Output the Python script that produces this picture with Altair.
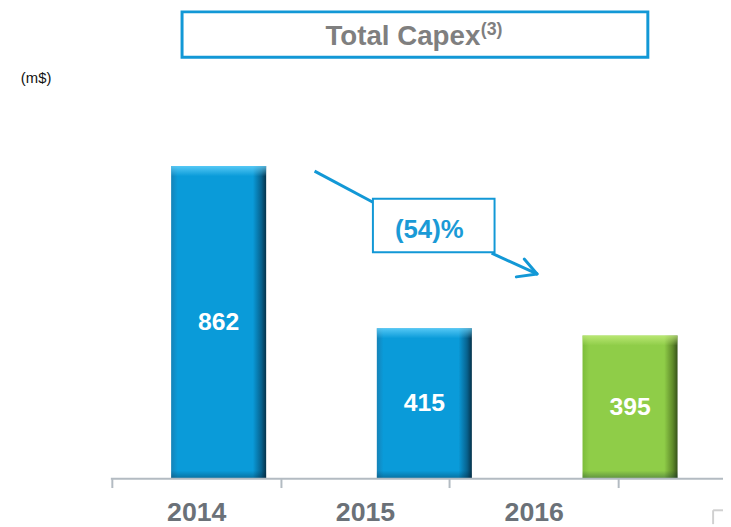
import altair as alt
import pandas as pd

years = ["2014", "2015", "2016"]
capex = [862, 415, 395]
kinds = ["actual", "actual", "plan"]

df = pd.DataFrame({"year": years, "value": capex, "kind": kinds})

BLUE_LINE = "#1298d6"
AXIS_GRAY = "#b3bbc2"
FONT = "Liberation Sans, Arial, sans-serif"

x_axis_scale = alt.Scale(domain=years, range=[105, 617], paddingInner=0, paddingOuter=0)
x_bar_scale = alt.Scale(domain=years, range=[109, 733], paddingInner=0.538, paddingOuter=0.269)
y_scale = alt.Scale(domain=[0, 1290], nice=False)

axis_layer = alt.Chart(df).mark_tick(opacity=0).encode(
    x=alt.X("year:N", scale=x_axis_scale, title=None,
            axis=alt.Axis(domain=False, ticks=True, tickBand="extent", tickSize=9,
                          tickWidth=2, tickColor=AXIS_GRAY, labelAngle=0,
                          labelFont=FONT, labelFontWeight="bold",
                          labelFontSize=27, labelColor="#6b7178", labelPadding=12,
                          grid=False)),
    y=alt.value(470),
)

def hgrad(c0, c1, c2, c3):
    return alt.LinearGradient(
        gradient="linear", x1=0, x2=1, y1=0, y2=0,
        stops=[alt.GradientStop(color=c0, offset=0),
               alt.GradientStop(color=c1, offset=0.07),
               alt.GradientStop(color=c1, offset=0.86),
               alt.GradientStop(color=c2, offset=0.95),
               alt.GradientStop(color=c3, offset=1)])

def vgrad(c0, c1):
    return alt.LinearGradient(
        gradient="linear", x1=0, x2=0, y1=0, y2=1,
        stops=[alt.GradientStop(color=c0, offset=0),
               alt.GradientStop(color=c1, offset=1)])

blue_grad = hgrad("#1583b8", "#0a9bd9", "#07628e", "#05324a")
green_grad = hgrad("#7dbd3b", "#8fcd48", "#5f8a2a", "#36521a")

base = alt.Chart(df).encode(
    x=alt.X("year:N", scale=x_bar_scale, axis=None),
)
bars_blue = base.mark_bar(color=blue_grad).encode(
    y=alt.Y("value:Q", scale=y_scale, axis=None)
).transform_filter(alt.datum.kind == "actual")
bars_green = base.mark_bar(color=green_grad).encode(
    y=alt.Y("value:Q", scale=y_scale, axis=None)
).transform_filter(alt.datum.kind == "plan")

top_blue = base.mark_bar(color=vgrad("rgba(110,215,255,0.75)", "rgba(110,215,255,0)")).encode(
    y=alt.Y("value:Q", scale=y_scale, axis=None), y2="top2:Q"
).transform_filter(alt.datum.kind == "actual").transform_calculate(top2="datum.value - 28")
top_green = base.mark_bar(color=vgrad("rgba(200,240,130,0.75)", "rgba(200,240,130,0)")).encode(
    y=alt.Y("value:Q", scale=y_scale, axis=None), y2="top2:Q"
).transform_filter(alt.datum.kind == "plan").transform_calculate(top2="datum.value - 28")
bottom_shade = base.mark_bar(color=vgrad("rgba(0,30,50,0)", "rgba(0,30,50,0.35)")).encode(
    y=alt.Y("b0:Q", scale=y_scale, axis=None), y2="b1:Q"
).transform_calculate(b0="22", b1="0")

labels = base.mark_text(color="white", font=FONT, fontWeight="bold",
                        fontSize=25, baseline="middle").encode(
    y=alt.Y("mid:Q", scale=y_scale, axis=None),
    text="value:Q",
).transform_calculate(mid="datum.value / 2")

bar_layer = alt.layer(bars_blue, bars_green, top_blue, top_green, bottom_shade, labels)

one = pd.DataFrame({"a": [0]})
ann = alt.Chart(one)

axis_line = ann.mark_rule(color=AXIS_GRAY, strokeWidth=2).encode(
    x=alt.value(104), x2=alt.value(723), y=alt.value(473))

title_box = ann.mark_rect(fill="white", stroke=BLUE_LINE, strokeWidth=3).encode(
    x=alt.value(176), x2=alt.value(647), y=alt.value(1), y2=alt.value(47))
title_text = ann.mark_text(text="Total Capex", font=FONT, fontWeight="bold",
                           fontSize=28, color="#7f7f7f", align="left",
                           baseline="alphabetic").encode(x=alt.value(321), y=alt.value(35))
title_sup = ann.mark_text(text="(3)", font=FONT, fontWeight="bold",
                          fontSize=18, color="#7f7f7f", align="left",
                          baseline="alphabetic").encode(x=alt.value(478), y=alt.value(24))
unit_text = ann.mark_text(text="(m$)", font=FONT, fontSize=15,
                          color="#111111", align="left", baseline="middle").encode(
    x=alt.value(13), y=alt.value(68))

seg1 = ann.mark_rule(color=BLUE_LINE, strokeWidth=3).encode(
    x=alt.value(310), x2=alt.value(370), y=alt.value(162), y2=alt.value(194))
seg2 = ann.mark_rule(color=BLUE_LINE, strokeWidth=3).encode(
    x=alt.value(489), x2=alt.value(535), y=alt.value(245), y2=alt.value(266))
head1 = ann.mark_rule(color=BLUE_LINE, strokeWidth=3, strokeCap="round").encode(
    x=alt.value(522), x2=alt.value(535), y=alt.value(251), y2=alt.value(266))
head2 = ann.mark_rule(color=BLUE_LINE, strokeWidth=3, strokeCap="round").encode(
    x=alt.value(514), x2=alt.value(535), y=alt.value(269), y2=alt.value(266))
pct_box = ann.mark_rect(fill="white", stroke=BLUE_LINE, strokeWidth=2).encode(
    x=alt.value(369), x2=alt.value(492), y=alt.value(190), y2=alt.value(244))
pct_text = ann.mark_text(text="(54)%", font=FONT, fontWeight="bold",
                         fontSize=26, color="#1a9ad6", baseline="middle").encode(
    x=alt.value(426), y=alt.value(222))

corner_h = ann.mark_rule(color="#d0d0d0", strokeWidth=2).encode(
    x=alt.value(713), x2=alt.value(723), y=alt.value(505))
corner_v = ann.mark_rule(color="#d0d0d0", strokeWidth=2).encode(
    x=alt.value(713), y=alt.value(505), y2=alt.value(519))

chart = alt.layer(
    axis_layer, bar_layer, axis_line,
    title_box, title_text, title_sup, unit_text,
    seg1, seg2, head1, head2, pct_box, pct_text,
    corner_h, corner_v,
).resolve_scale(x="independent").properties(
    width=723, height=473,
    autosize=alt.AutoSizeParams(type="none"),
    padding={"left": 0, "top": 0, "right": 0, "bottom": 46},
).configure_view(stroke=None)

chart.save("out.html", embed_options={"renderer": "svg", "actions": False})
